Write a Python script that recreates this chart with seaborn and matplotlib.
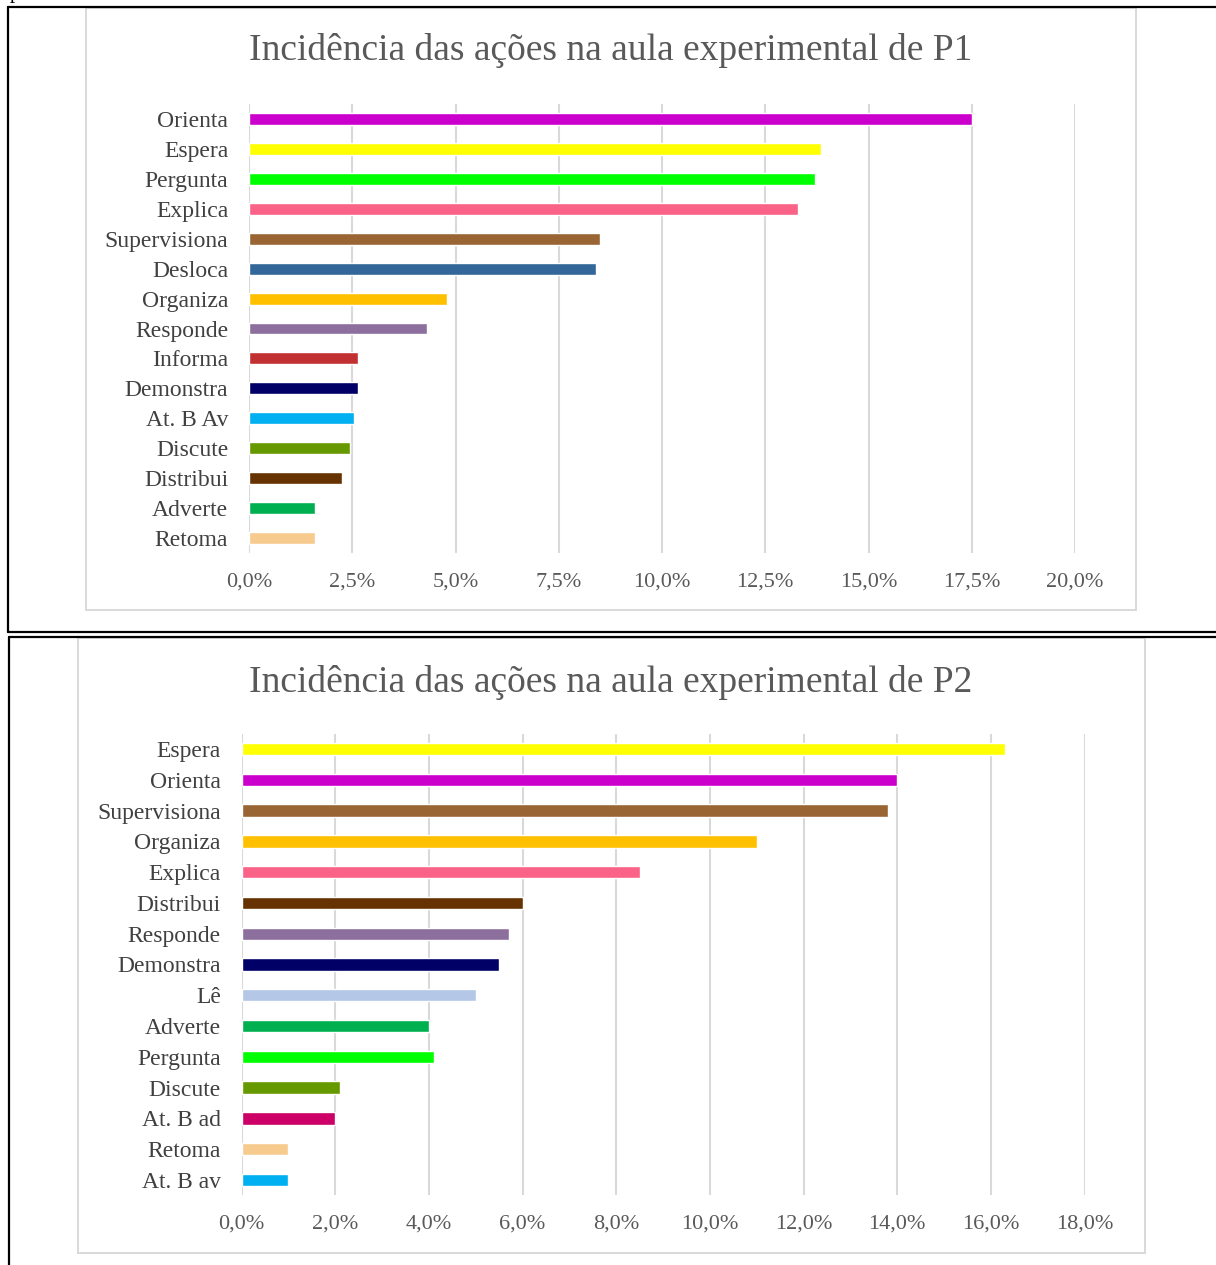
import numpy as np
import pandas as pd
import matplotlib
matplotlib.use("Agg")
import matplotlib.pyplot as plt
import seaborn as sns
from matplotlib.ticker import FuncFormatter
from matplotlib.patches import Rectangle
from matplotlib.lines import Line2D

# data (percent)
p1_actions = ["Orienta", "Espera", "Pergunta", "Explica", "Supervisiona", "Desloca",
              "Organiza", "Responde", "Informa", "Demonstra", "At. B Av", "Discute",
              "Distribui", "Adverte", "Retoma"]
p1_values = [17.5, 13.85, 13.7, 13.3, 8.5, 8.4, 4.8, 4.3, 2.65, 2.65, 2.55, 2.45, 2.25, 1.6, 1.6]

p2_actions = ["Espera", "Orienta", "Supervisiona", "Organiza", "Explica", "Distribui",
              "Responde", "Demonstra", "Lê", "Adverte", "Pergunta", "Discute",
              "At. B ad", "Retoma", "At. B av"]
p2_values = [16.3, 14.0, 13.8, 11.0, 8.5, 6.0, 5.7, 5.5, 5.0, 4.0, 4.1, 2.1, 2.0, 1.0, 1.0]

colors = {
    "Orienta": "#CC00CC", "Espera": "#FFFF00", "Pergunta": "#00FF00",
    "Explica": "#FA6387", "Supervisiona": "#996633", "Desloca": "#336699",
    "Organiza": "#FFC000", "Responde": "#8C6F9D", "Informa": "#C23131",
    "Demonstra": "#000066", "At. B Av": "#00B0F0", "At. B av": "#00B0F0",
    "Discute": "#669900", "Distribui": "#663300", "Adverte": "#00B050",
    "Retoma": "#F7CB8E", "Lê": "#B4C7E7", "At. B ad": "#CC0066",
}

sns.set_style("white")
plt.rcParams["font.family"] = ["Liberation Serif", "DejaVu Serif"]

W, H = 1216, 1265
fig = plt.figure(figsize=(W / 100, H / 100), dpi=100)


def box(x0, y0, x1, y1):
    return [x0 / W, 1 - y1 / H, (x1 - x0) / W, (y1 - y0) / H]


def pline(x0, y0, x1, y1, **kw):
    fig.add_artist(Line2D([x0 / W, x1 / W], [1 - y0 / H, 1 - y1 / H],
                          transform=fig.transFigure, **kw))


def prect(x0, y0, x1, y1, **kw):
    fig.add_artist(Rectangle((x0 / W, 1 - y1 / H), (x1 - x0) / W, (y1 - y0) / H,
                             transform=fig.transFigure, fill=False, **kw))


# table cell borders of the document
pline(8, 7, W + 5, 7, color="black", lw=1.6)
pline(8, 7, 8, 632, color="black", lw=1.6)
pline(8, 632, W + 5, 632, color="black", lw=1.6)
pline(9, 637, W + 5, 637, color="black", lw=1.6)
pline(9, 637, 9, H + 5, color="black", lw=1.6)
# page text cut off at the top edge, as in the source page
fig.text(10 / W, 1 + 2 / H, "para", fontsize=15, va="baseline", color="black")

# chart frames
prect(86, 8, 1136, 610, color="#D9D9D9", lw=1.4)
prect(78, 638, 1145, 1253, color="#D9D9D9", lw=1.4)


def draw(rect, actions, values, xmax, step, title, title_y):
    ax = fig.add_axes(rect)
    df = pd.DataFrame({"acao": actions, "pct": values})
    sns.barplot(data=df, x="pct", y="acao", hue="acao", palette=colors,
                orient="h", width=0.4, legend=False, ax=ax, saturation=1)
    ax.set_xlim(0, xmax)
    ax.set_xticks(np.arange(0, xmax + step / 2, step))
    ax.xaxis.set_major_formatter(FuncFormatter(lambda v, p: f"{v:.1f}%".replace(".", ",")))
    ax.grid(axis="x", color="#D9D9D9", lw=1.5)
    ax.set_axisbelow(True)
    for s in ax.spines.values():
        s.set_visible(False)
    ax.tick_params(axis="x", length=0, pad=14, labelsize=16, labelcolor="#595959")
    ax.tick_params(axis="y", length=0, pad=15, labelsize=17, labelcolor="#404040")
    ax.set_xlabel("")
    ax.set_ylabel("")
    fig.text(611 / W, 1 - title_y / H, title, ha="center", va="center",
             fontsize=27, color="#595959")
    return ax


draw(box(249, 104, 1075, 553), p1_actions, p1_values, 20, 2.5,
     "Incidência das ações na aula experimental de P1", 51)
draw(box(241.6, 733.6, 1084.5, 1195.4), p2_actions, p2_values, 18, 2,
     "Incidência das ações na aula experimental de P2", 682)

fig.savefig("out.png", dpi=100)
